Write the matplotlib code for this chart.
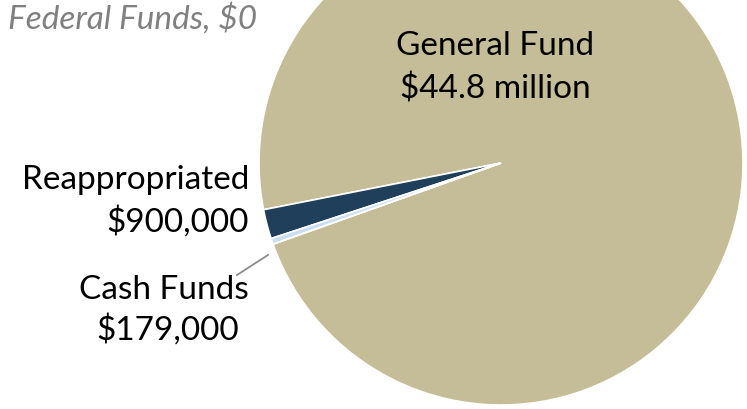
import matplotlib.pyplot as plt

# funding sources (millions of dollars)
sources = ["General Fund", "Reappropriated", "Cash Funds", "Federal Funds"]
amounts = [44.8, 0.9, 0.179, 0.0]
colors = ["#C4BD97", "#1F3F5A", "#C9DFEE", "#7F7F7F"]

W, H = 747, 409
fig = plt.figure(figsize=(W / 100, H / 100), dpi=100)
ax = fig.add_axes([0, 0, 1, 1])

ax.pie(amounts, colors=colors, center=(501, H - 163), radius=242,
       startangle=199.6, counterclock=True, frame=True,
       wedgeprops=dict(edgecolor="white", linewidth=1.2))
ax.set_xlim(0, W)
ax.set_ylim(0, H)
ax.axis("off")

font = "Lato"
fs = 24

ax.text(495, H - 46, "General Fund", ha="center", va="center", fontsize=fs, family=font)
ax.text(495, H - 89, "$44.8 million", ha="center", va="center", fontsize=fs, family=font)

ax.text(249, H - 180, "Reappropriated", ha="right", va="center", fontsize=fs, family=font)
ax.text(249, H - 222, "$900,000", ha="right", va="center", fontsize=fs, family=font)

ax.text(249, H - 290, "Cash Funds", ha="right", va="center", fontsize=fs, family=font)
ax.text(239, H - 330, "$179,000", ha="right", va="center", fontsize=fs, family=font)
ax.plot([237, 268], [H - 275, H - 255], color="#8C8C8C", lw=1.3)

ax.text(8, H - 19, "Federal Funds, $0", ha="left", va="center", fontsize=fs,
        family=font, style="italic", color="#808080")

fig.savefig("out.png", dpi=100)
